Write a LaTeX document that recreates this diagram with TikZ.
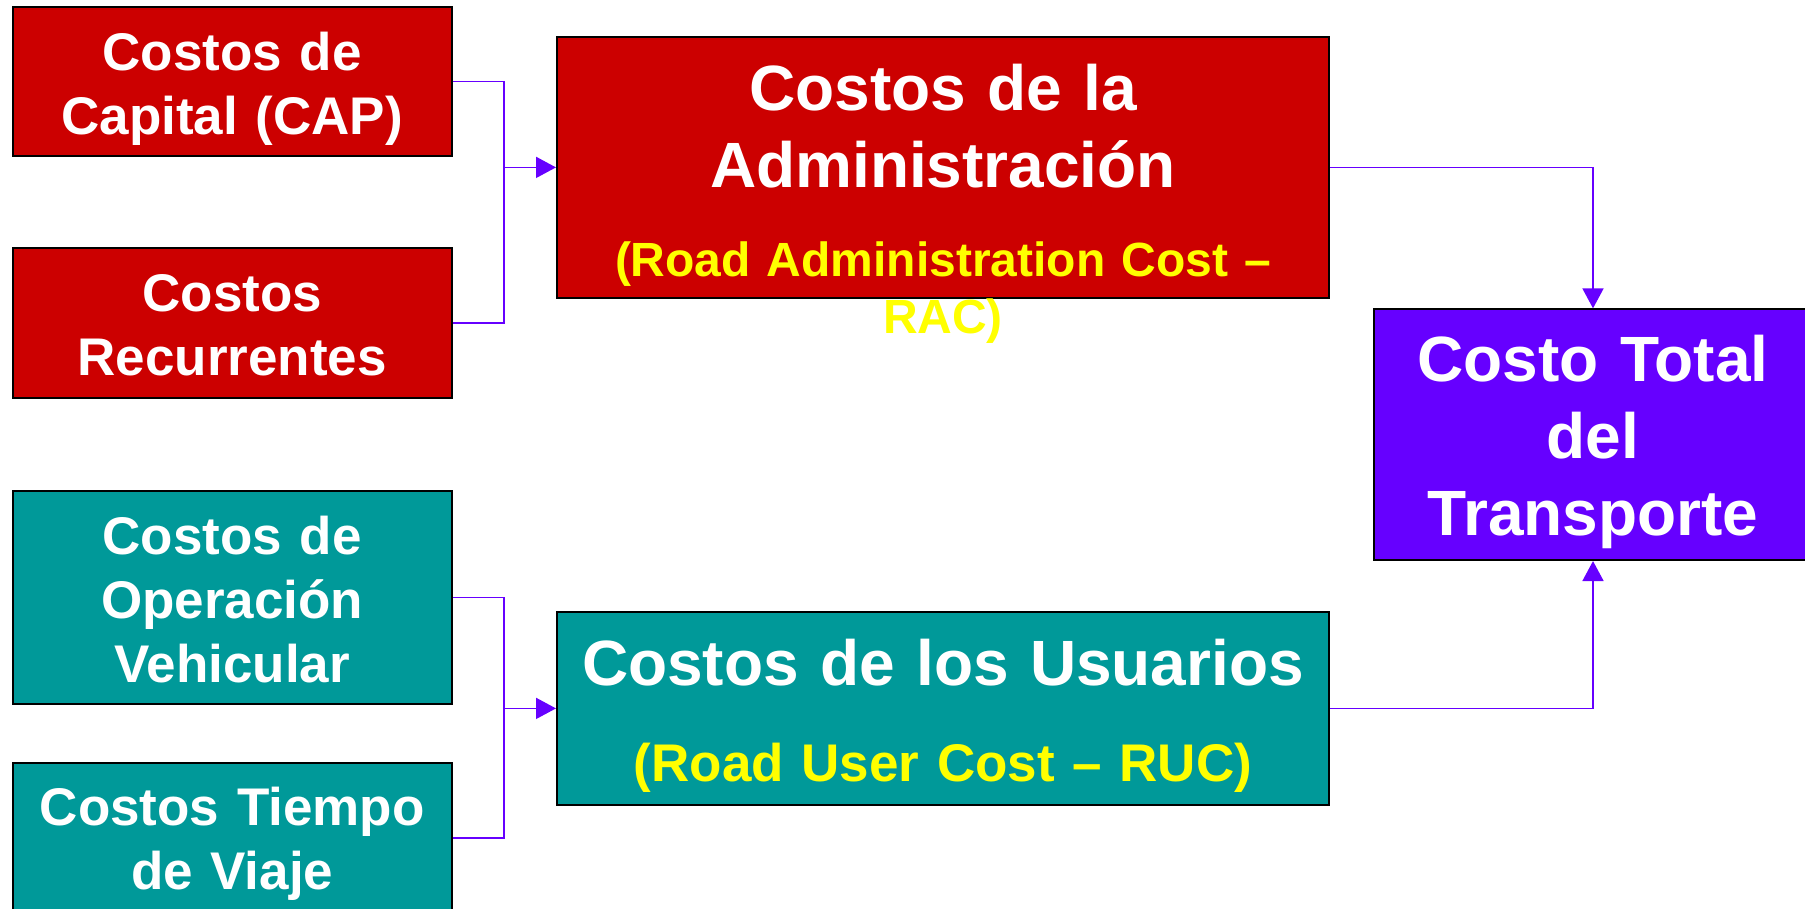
\documentclass[tikz,border=0pt]{standalone}
\usepackage{fontspec}
\setmainfont{Liberation Sans}
\usetikzlibrary{arrows.meta}
\definecolor{rojo}{HTML}{CC0000}
\definecolor{verde}{HTML}{009999}
\definecolor{morado}{HTML}{6600FF}
\definecolor{amarillo}{HTML}{FFFF00}
\newcommand{\fchica}{\fontsize{53}{64}\selectfont\bfseries}
\newcommand{\fgrande}{\fontsize{64}{77}\selectfont\bfseries}
\newcommand{\famar}{\fontsize{48}{57}\selectfont\bfseries}
\tikzset{
  every picture/.style={line join=miter, >=Stealth},
  caja/.style={draw=black, line width=2pt, inner sep=0pt},
  txt/.style={text=white, anchor=base, align=center, inner sep=0pt},
  link/.style={draw=morado, line width=1.8pt},
  flecha/.style={-{Triangle[length=20pt,width=21pt]}},
}

\begin{document}
\begin{tikzpicture}[x=1pt,y=-1pt]
\useasboundingbox (0,0) rectangle (1805,908);
% cajas
\node[caja, fill=rojo, minimum width=439pt, minimum height=149.3pt] (cap) at (232.2,81.4) {};
\node[caja, fill=rojo, minimum width=439pt, minimum height=150pt] (rec) at (232.2,323) {};
\node[caja, fill=verde, minimum width=439pt, minimum height=213pt] (ope) at (232.2,597.5) {};
\node[caja, fill=verde, minimum width=439pt, minimum height=150pt] (tie) at (232.2,837.7) {};
\node[caja, fill=rojo, minimum width=772pt, minimum height=261.3pt] (adm) at (943,167.4) {};
\node[caja, fill=verde, minimum width=772pt, minimum height=193.3pt] (usr) at (943,708.4) {};
\node[caja, fill=morado, minimum width=438pt, minimum height=250.7pt] (tot) at (1593,434.7) {};
% textos
\node[txt, font=\fchica, text width=439pt] (capt) at (232.2,70) {Costos de\\Capital (CAP)};
\node[txt, font=\fchica, text width=439pt] (rect) at (232.2,311.7) {Costos\\Recurrentes};
\node[txt, font=\fchica, text width=439pt] (opet) at (232.2,554) {Costos de\\Operación\\Vehicular};
\node[txt, font=\fchica, text width=439pt] (tiet) at (232.2,825) {Costos Tiempo\\de Viaje};
\node[txt, font=\fgrande, text width=772pt] (admt) at (943,110) {Costos de la\\Administración};
\node[txt, font=\famar, text=amarillo, text width=772pt] (admy) at (943,276.7) {(Road Administration Cost --\\RAC)};
\node[txt, font=\fgrande, text width=772pt] (usrt) at (943,685) {Costos de los Usuarios};
\node[txt, font=\fchica, text=amarillo, text width=772pt] (usry) at (943,781.7) {(Road User Cost -- RUC)};
\node[txt, font=\fgrande, text width=438pt] (tott) at (1593,381.7) {Costo Total\\del\\Transporte};
% conectores
\coordinate (ja) at (503.7,167.4);
\coordinate (jb) at (503.7,708.4);
\draw[link] (cap.east) -| (ja);
\draw[link] (rec.east) -| (ja);
\draw[link, flecha] (ja) -- (adm.west);
\draw[link] (ope.east) -| (jb);
\draw[link] (tie.east) -| (jb);
\draw[link, flecha] (jb) -- (usr.west);
\draw[link, flecha] (adm.east) -| (tot.north);
\draw[link, flecha] (usr.east) -| (tot.south);
\end{tikzpicture}
\end{document}
